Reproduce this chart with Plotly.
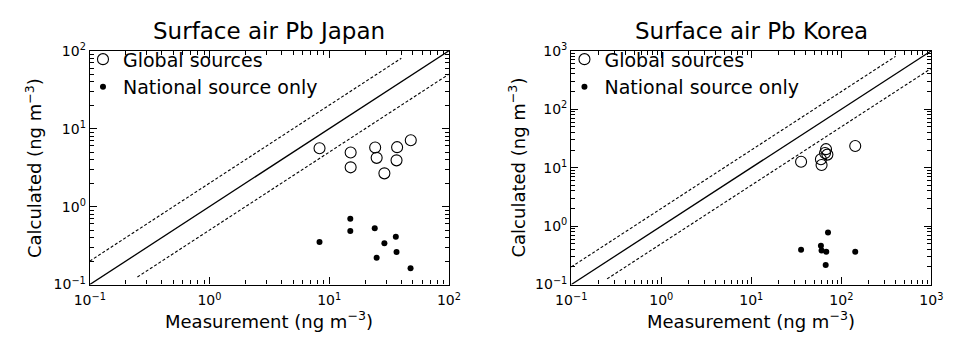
import plotly.graph_objects as go

# ---- data ----
japan_meas_global = [8.3, 15.1, 15.1, 24.2, 24.9, 28.9, 36.9, 36.5, 48.0]
japan_calc_global = [5.6, 4.94, 3.19, 5.74, 4.22, 2.67, 5.79, 3.92, 7.1]
japan_meas_nat = [8.3, 15.0, 15.0, 24.0, 28.9, 36.0, 24.9, 36.5, 47.8]
japan_calc_nat = [0.351, 0.70, 0.486, 0.529, 0.338, 0.411, 0.220, 0.261, 0.162]

korea_meas_global = [35.7, 59.3, 60.3, 67.6, 70.0, 65.9, 142.6]
korea_calc_global = [12.6, 13.9, 11.1, 20.7, 16.7, 17.8, 23.4]
korea_meas_nat = [35.7, 59.3, 60.3, 68.0, 71.1, 67.0, 142.6]
korea_calc_nat = [0.392, 0.459, 0.382, 0.363, 0.774, 0.216, 0.363]

# reference lines: ratio (calc/meas) and x extent
japan_lines = {"ratio": [1.0, 2.0, 0.5], "xmin": [0.1, 0.1, 0.25], "xmax": [100, 40, 100]}
korea_lines = {"ratio": [1.0, 2.0, 0.5], "xmin": [0.1, 0.1, 0.25], "xmax": [1000, 400, 1000]}

japan_ticks = [0.1, 1, 10, 100]
japan_ticktext = ["10<sup>−1</sup>", "10<sup>0</sup>", "10<sup>1</sup>", "10<sup>2</sup>"]
korea_ticks = [0.1, 1, 10, 100, 1000]
korea_ticktext = ["10<sup>−1</sup>", "10<sup>0</sup>", "10<sup>1</sup>", "10<sup>2</sup>", "10<sup>3</sup>"]

titles = ["Surface air Pb Japan", "Surface air Pb Korea"]
xlabel = "Measurement (ng m<sup>−3</sup>)"
ylabel = "Calculated (ng m<sup>−3</sup>)"

FONT = "DejaVu Sans"
W, H = 956, 338

fig = go.Figure()

panels = [
    dict(mg=japan_meas_global, cg=japan_calc_global, mn=japan_meas_nat, cn=japan_calc_nat,
         lines=japan_lines, xa="x", ya="y", legend="legend"),
    dict(mg=korea_meas_global, cg=korea_calc_global, mn=korea_meas_nat, cn=korea_calc_nat,
         lines=korea_lines, xa="x2", ya="y2", legend="legend2"),
]

for p in panels:
    L = p["lines"]
    for r, x0, x1 in zip(L["ratio"], L["xmin"], L["xmax"]):
        fig.add_trace(go.Scatter(
            x=[x0, x1], y=[x0 * r, x1 * r], mode="lines",
            line=dict(color="black", width=1.3 if r == 1 else 1.1,
                      dash="solid" if r == 1 else "3px,2px"),
            xaxis=p["xa"], yaxis=p["ya"], showlegend=False, hoverinfo="skip"))
    fig.add_trace(go.Scatter(
        x=p["mg"], y=p["cg"], mode="markers", name="Global sources",
        marker=dict(symbol="circle-open", size=11, color="black", line=dict(width=1.1)),
        xaxis=p["xa"], yaxis=p["ya"], legend=p["legend"]))
    fig.add_trace(go.Scatter(
        x=p["mn"], y=p["cn"], mode="markers", name="National source only",
        marker=dict(symbol="circle", size=6, color="black"),
        xaxis=p["xa"], yaxis=p["ya"], legend=p["legend"]))

ydom = [(H - 290) / H, (H - 43) / H]
xdoms = [[76 / W, 446 / W], [572 / W, 943 / W]]

def axis_common(ticks, tt, rng, dom, anchor):
    return dict(
        type="log", range=rng, domain=dom, anchor=anchor,
        tickmode="array", tickvals=ticks, ticktext=tt, ticks="inside", ticklen=7, tickwidth=1,
        tickcolor="black", showline=True, linecolor="black", linewidth=1.2,
        mirror="allticks", showgrid=False, zeroline=False,
        tickfont=dict(family=FONT, size=14, color="black"),
        minor=dict(tickmode="linear", dtick="D1", ticks="inside", ticklen=4, tickwidth=1,
                   tickcolor="black", showgrid=False),
    )

fig.update_layout(
    xaxis=axis_common(japan_ticks, japan_ticktext, [-1, 2], xdoms[0], "y"),
    yaxis=axis_common(japan_ticks, japan_ticktext, [-1, 2], ydom, "x"),
    xaxis2=axis_common(korea_ticks, korea_ticktext, [-1, 3], xdoms[1], "y2"),
    yaxis2=axis_common(korea_ticks, korea_ticktext, [-1, 3], ydom, "x2"),
)
fig.layout.xaxis.ticklabelstandoff = 3
fig.layout.xaxis2.ticklabelstandoff = 3

legend_style = dict(font=dict(family=FONT, size=19, color="black"), bgcolor="rgba(0,0,0,0)",
                    xanchor="left", yanchor="top", itemwidth=30, tracegroupgap=0)
fig.update_layout(
    legend=dict(x=69 / W, y=1 - 32 / H, **legend_style),
    legend2=dict(x=565 / W, y=1 - 32 / H, **legend_style),
)

annotations = []
for i, t in enumerate(titles):
    cx = (xdoms[i][0] + xdoms[i][1]) / 2
    annotations.append(dict(text=t, x=cx, y=1 - 22 / H, xref="paper", yref="paper",
                            showarrow=False, font=dict(family=FONT, size=23, color="black"),
                            xanchor="center", yanchor="middle"))
    annotations.append(dict(text=xlabel, x=cx, y=1 - 327 / H, xref="paper", yref="paper",
                            showarrow=False, font=dict(family=FONT, size=18, color="black"),
                            xanchor="center", yanchor="middle"))
ylab_x = [18 / W, 516 / W]
for i in range(2):
    annotations.append(dict(text=ylabel, x=ylab_x[i], y=(ydom[0] + ydom[1]) / 2,
                            xref="paper", yref="paper", textangle=-90, showarrow=False,
                            font=dict(family=FONT, size=18, color="black"),
                            xanchor="center", yanchor="middle"))

fig.update_layout(
    annotations=annotations,
    width=W, height=H, margin=dict(l=0, r=0, t=0, b=0),
    paper_bgcolor="white", plot_bgcolor="white", showlegend=True,
)

fig.write_html("out.html")
